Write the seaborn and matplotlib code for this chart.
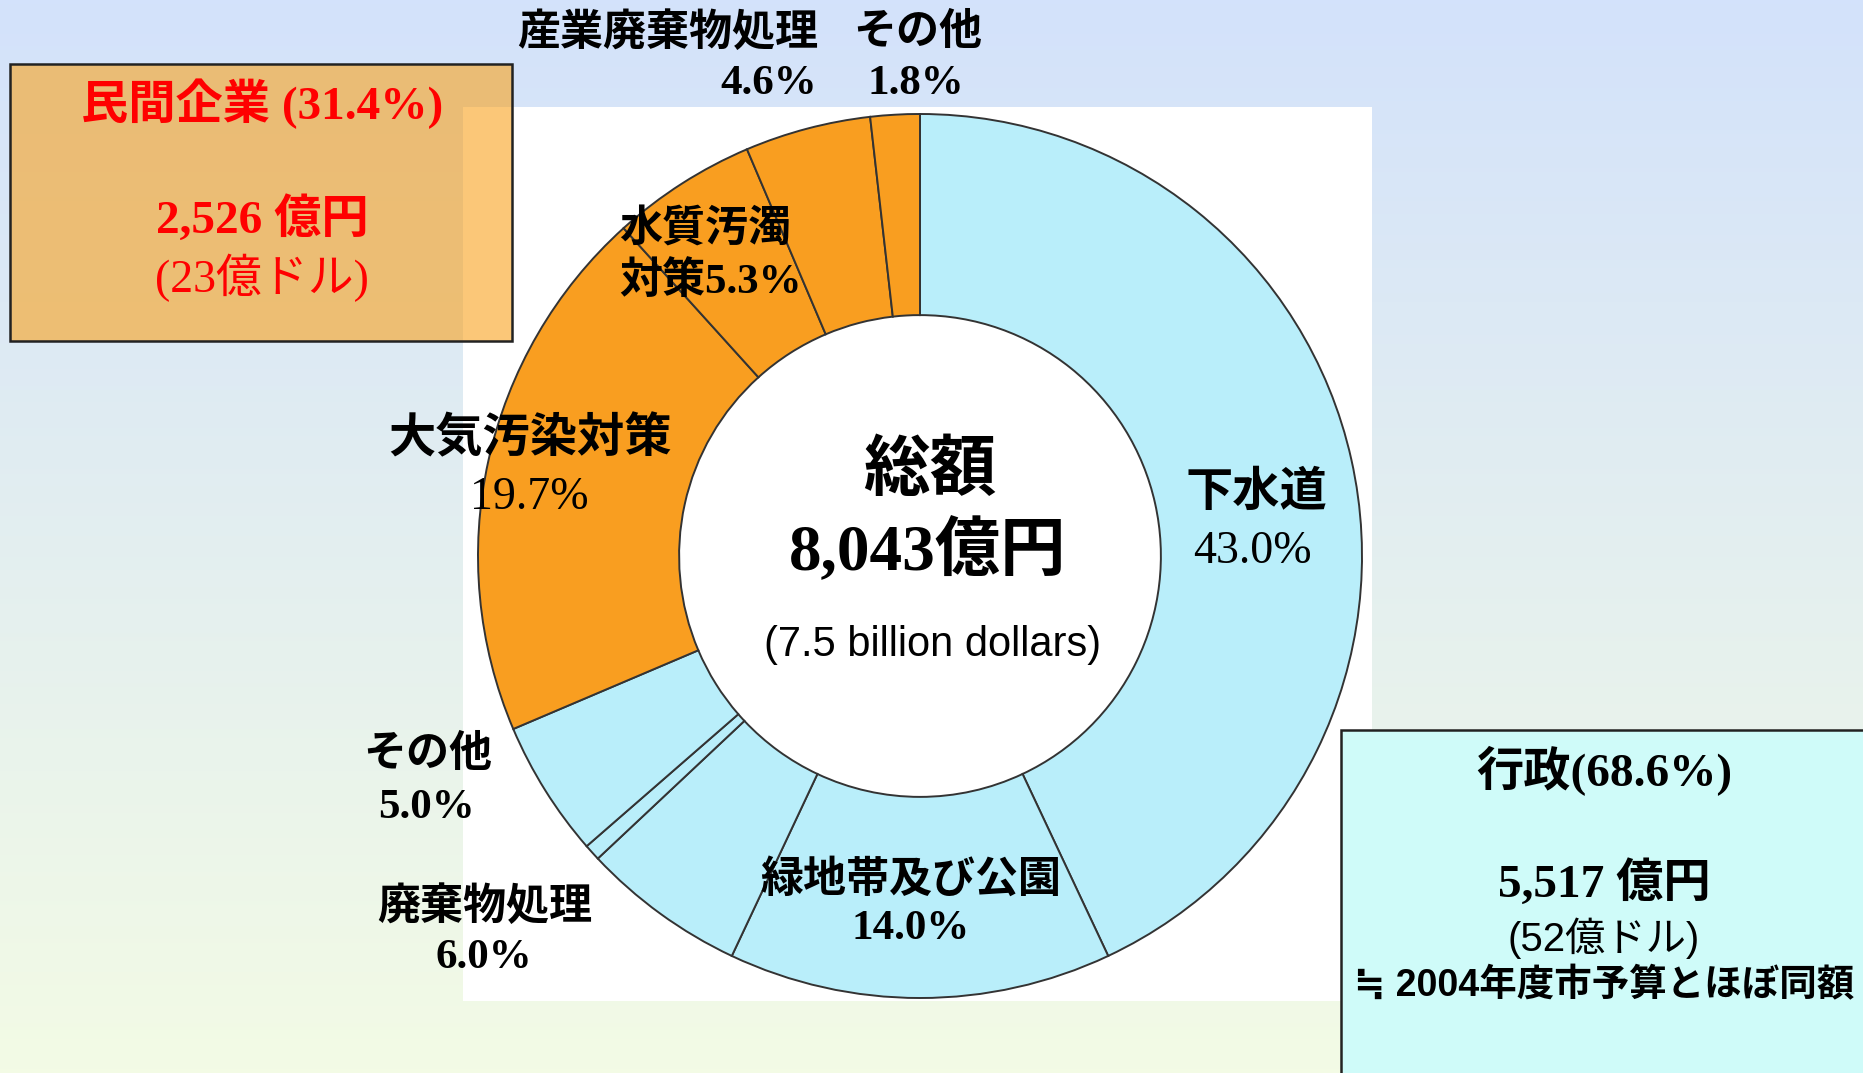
import numpy as np
import matplotlib
matplotlib.use("Agg")
import matplotlib.pyplot as plt
from matplotlib.patches import Rectangle
import seaborn as sns

# slices, clockwise from 12 o'clock
segments = ["下水道", "緑地帯及び公園", "廃棄物処理", "(小)", "その他",
            "大気汚染対策", "水質汚濁対策", "産業廃棄物処理", "その他"]
shares = [43.0, 14.0, 6.0, 0.6, 5.0, 19.7, 5.3, 4.6, 1.8]
sector = ["行政", "行政", "行政", "行政", "行政", "民間", "民間", "民間", "民間"]
sector_colors = {"行政": "#B9EEFA", "民間": "#F99E20"}

total_label = ["総額", "8,043億円", "(7.5 billion dollars)"]
private_label = ["民間企業 (31.4%)", "2,526 億円", "(23億ドル)"]
public_label = ["行政(68.6%)", "5,517 億円", "(52億ドル)", "≒ 2004年度市予算とほぼ同額"]

W, H = 1863, 1073
SERIF = ["Liberation Serif", "Noto Sans CJK JP"]
SANS = ["Liberation Sans", "DejaVu Sans", "Noto Sans CJK JP"]

sns.set_theme(style="white")
plt.rcParams["font.family"] = SANS

fig = plt.figure(figsize=(W / 100, H / 100), dpi=100)

# background gradient + white panel + info boxes
bg = fig.add_axes([0, 0, 1, 1])
top = np.array([211, 226, 251]) / 255
bottom = np.array([243, 251, 229]) / 255
t = np.linspace(0, 1, 256)[:, None, None]
grad = top * (1 - t) + bottom * t
bg.imshow(grad, aspect="auto", extent=[0, W, H, 0])
bg.set_xlim(0, W)
bg.set_ylim(H, 0)
bg.axis("off")
bg.add_patch(Rectangle((463, 107), 909, 894, facecolor="white", edgecolor="none"))
bg.add_patch(Rectangle((10, 64), 502, 277, facecolor="#F9A21E", alpha=0.6,
                       edgecolor="none"))
bg.add_patch(Rectangle((10, 64), 502, 277, facecolor="none", edgecolor="#222222",
                       linewidth=1.8))
bg.add_patch(Rectangle((1341, 730), 540, 360, facecolor="#CFFBF9",
                       edgecolor="#222222", linewidth=1.8))

# donut
cx, cy, r = 920, 556, 442
pie_ax = fig.add_axes([(cx - r) / W, (H - cy - r) / H, 2 * r / W, 2 * r / H])
pie_ax.set_zorder(1)
pie_ax.pie(shares, colors=[sector_colors[s] for s in sector], startangle=90,
           counterclock=False, radius=1,
           wedgeprops=dict(width=0.455, edgecolor="#333333", linewidth=1.4))
pie_ax.set_xlim(-1, 1)
pie_ax.set_ylim(-1, 1)
pie_ax.axis("off")


def put(x, y, s, size, family=SERIF, weight="bold", color="black", ha="center"):
    fig.text(x / W, 1 - y / H, s, fontsize=size, family=family, fontweight=weight,
             color=color, ha=ha, va="center", zorder=5)


# private box
put(262, 104, private_label[0], 34, color="#FF0000")
put(262, 220, private_label[1], 34, color="#FF0000")
put(262, 278, private_label[2], 33, color="#FF0000", weight="normal")

# slice labels
put(668, 33, segments[7], 31)
put(918, 33, segments[8], 31)
put(769, 84, f"{shares[7]}%", 31)
put(916, 84, f"{shares[8]}%", 31)
put(619, 230, "水質汚濁", 31, ha="left")
put(619, 282, f"対策{shares[6]}%", 31, ha="left")
put(530, 440, segments[5], 34)
put(529, 498, f"{shares[5]}%", 33, weight="normal")
put(1256, 494, segments[0], 34)
put(1252, 552, f"{shares[0]}%", 33, weight="normal")
put(428, 755, segments[4], 31)
put(426, 808, f"{shares[4]}%", 31)
put(485, 907, segments[2], 31)
put(484, 958, f"{shares[2]}%", 31)
put(911, 880, segments[1], 31)
put(911, 929, f"{shares[1]}%", 31)

# centre
put(930, 473, total_label[0], 48)
put(928, 552, total_label[1], 47)
put(933, 645, total_label[2], 30, family=SANS, weight="normal")

# public box
put(1604, 771, public_label[0], 34)
put(1604, 884, public_label[1], 34)
put(1604, 938, public_label[2], 29, family=SANS, weight="normal")
put(1604, 986, public_label[3], 27, family=SANS)

fig.savefig("out.png", dpi=100)
